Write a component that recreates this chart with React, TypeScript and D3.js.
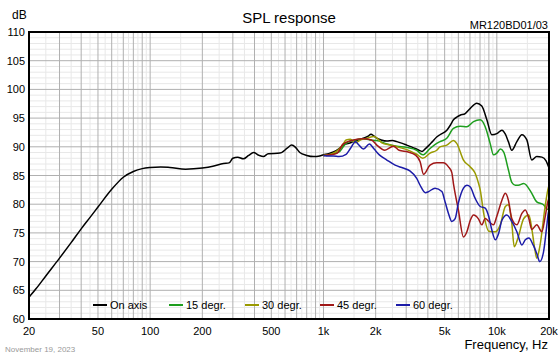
import React from "react";
import * as d3 from "d3";

const freqTicks = [20, 50, 100, 200, 500, 1000, 2000, 5000, 10000, 20000];
const freqTickLabels = ["20", "50", "100", "200", "500", "1k", "2k", "5k", "10k", "20k"];
const dbTicks = [60, 65, 70, 75, 80, 85, 90, 95, 100, 105, 110];

const onAxisF = [20, 22, 25, 30, 35, 40, 45, 50, 60, 70, 80, 90, 100, 115, 130, 160, 200, 230, 265, 285, 300, 320, 345, 370, 395, 425, 450, 480, 560, 620, 655, 690, 730, 800, 880, 950, 1000, 1070, 1140, 1220, 1300, 1400, 1490, 1600, 1700, 1800, 1880, 1950, 2030, 2150, 2320, 2500, 2650, 2850, 3020, 3200, 3380, 3550, 3700, 3850, 4040, 4250, 4500, 4700, 5150, 5400, 5620, 5900, 6140, 6570, 7030, 7660, 8190, 8760, 9360, 10000, 10700, 11200, 11660, 12200, 13050, 13950, 14900, 15900, 17000, 18200, 19200, 20000];
const onAxisDb = [63.8, 65.3, 67.5, 70.6, 73.3, 75.7, 77.7, 79.5, 82.6, 84.7, 85.7, 86.2, 86.4, 86.5, 86.4, 86.1, 86.3, 86.6, 87.1, 87.2, 88.0, 88.2, 87.9, 88.5, 89.0, 88.5, 88.3, 88.8, 88.9, 89.8, 90.3, 89.9, 89.0, 88.5, 88.3, 88.4, 88.6, 88.8, 89.1, 89.6, 90.3, 90.6, 90.9, 91.2, 91.5, 91.8, 92.2, 91.9, 91.5, 91.2, 91.0, 91.1, 90.9, 90.6, 90.3, 90.0, 89.7, 89.4, 89.2, 89.6, 90.2, 90.9, 91.7, 92.1, 92.9, 93.8, 94.7, 95.2, 95.5, 95.8, 96.7, 97.6, 97.1, 94.7, 92.1, 92.3, 92.9, 92.2, 90.9, 89.4, 90.9, 92.1, 91.2, 87.7, 88.3, 88.2, 87.6, 86.3];

const deg15F = [1000, 1070, 1140, 1230, 1300, 1350, 1430, 1530, 1670, 1850, 2030, 2320, 2650, 3020, 3450, 3740, 4120, 4500, 4700, 5145, 5620, 6140, 6720, 7340, 8020, 8570, 9150, 9570, 10000, 10470, 10940, 11660, 12200, 12800, 13300, 14300, 15700, 17000, 18600, 19400, 20000];
const deg15Db = [88.5, 88.6, 88.8, 89.1, 90.0, 90.6, 91.0, 91.2, 91.4, 91.2, 91.1, 90.5, 90.1, 89.9, 89.4, 88.6, 89.7, 90.6, 90.9, 91.5, 93.2, 93.6, 93.5, 94.4, 94.7, 93.5, 90.6, 88.6, 88.9, 89.6, 89.1, 86.0, 83.8, 83.3, 83.3, 83.6, 82.2, 80.4, 79.9, 79.2, 79.0];

const deg30F = [1000, 1100, 1200, 1300, 1350, 1430, 1530, 1640, 1780, 1960, 2170, 2420, 2730, 3150, 3450, 3740, 4120, 4500, 4700, 5145, 5620, 5870, 6420, 7030, 7500, 7850, 8020, 8400, 8990, 9800, 10470, 11200, 11660, 12200, 12600, 13300, 14300, 15300, 15900, 16600, 17000, 17700, 19000, 19800, 20000];
const deg30Db = [88.5, 88.7, 89.3, 90.5, 91.2, 91.3, 90.7, 91.2, 91.5, 91.8, 90.7, 90.3, 89.9, 89.3, 88.7, 88.0, 88.9, 89.4, 90.0, 90.3, 91.1, 90.6, 87.7, 86.5, 85.4, 83.6, 82.5, 78.4, 75.3, 75.2, 76.4, 79.6, 79.9, 76.7, 72.6, 74.3, 77.5, 78.1, 75.8, 72.0, 70.6, 72.6, 79.6, 82.8, 83.2];

const deg45F = [1000, 1100, 1200, 1300, 1490, 1700, 1890, 2030, 2260, 2530, 2730, 3080, 3380, 3610, 3780, 4120, 4500, 4910, 5260, 5500, 5620, 6000, 6420, 6720, 7030, 7340, 7850, 8190, 8570, 8990, 9570, 10000, 10700, 11200, 11660, 12200, 13050, 13950, 14600, 15300, 15900, 17000, 18200, 19000, 19800, 20000];
const deg45Db = [88.5, 88.6, 88.9, 90.5, 91.2, 91.4, 91.2, 90.3, 89.4, 90.1, 89.4, 89.1, 88.6, 87.4, 85.2, 86.8, 87.2, 87.2, 86.5, 85.5, 83.6, 79.0, 74.3, 75.2, 77.2, 78.1, 77.4, 76.4, 77.5, 77.0, 76.4, 77.9, 80.7, 81.9, 80.7, 77.5, 76.4, 78.4, 79.0, 77.5, 75.6, 76.4, 75.2, 77.8, 80.7, 81.0];

const deg60F = [1000, 1070, 1140, 1230, 1350, 1430, 1530, 1600, 1700, 1840, 1960, 2100, 2320, 2590, 2880, 3150, 3450, 3610, 3870, 4040, 4400, 4820, 5030, 5260, 5500, 5750, 6000, 6420, 6720, 7030, 7500, 8020, 8570, 8990, 9360, 9800, 10240, 10700, 11420, 12200, 13050, 13950, 14600, 15300, 16200, 17000, 17700, 18600, 19400, 19800, 20000];
const deg60Db = [88.5, 88.4, 88.4, 88.3, 88.7, 89.7, 90.9, 90.3, 89.6, 90.5, 89.6, 88.6, 87.7, 86.8, 86.3, 85.8, 84.5, 83.3, 82.0, 82.2, 82.8, 82.2, 80.4, 78.4, 77.0, 77.5, 80.2, 82.8, 83.3, 83.0, 81.0, 79.6, 79.3, 77.8, 75.5, 73.8, 74.9, 77.2, 78.1, 77.0, 75.2, 72.9, 73.8, 74.1, 72.9, 71.4, 70.0, 71.7, 76.1, 78.4, 79.0];

const seriesNames = ["On axis", "15 degr.", "30 degr.", "45 degr.", "60 degr."];
const seriesColors = ["#000000", "#1e9e1e", "#9a9a00", "#a01818", "#1c1ca8"];
const seriesF = [onAxisF, deg15F, deg30F, deg45F, deg60F];
const seriesDb = [onAxisDb, deg15Db, deg30Db, deg45Db, deg60Db];

const W = 560, H = 356;
const L = 29, R = 549, T = 32, B = 319;
const font = "'Liberation Sans', Arial, sans-serif";

export default function App() {
  const x = d3.scaleLog().domain([20, 20000]).range([L, R]);
  const y = d3.scaleLinear().domain([60, 110]).range([B, T]);

  const majorF: number[] = [];
  const minorF: number[] = [];
  for (const dec of [10, 100, 1000, 10000]) {
    for (let m = 1; m <= 9; m++) {
      const f = m * dec;
      if (f >= 20 && f <= 20000) majorF.push(f);
      const h = (m + 0.5) * dec;
      if (h > 20 && h < 20000) minorF.push(h);
    }
  }
  const minorDb = d3.range(60, 111, 1).filter((v) => v % 5 !== 0);

  const line = d3
    .line<[number, number]>()
    .x((d) => x(d[0]))
    .y((d) => y(d[1]))
    .curve(d3.curveMonotoneX);

  const legendX = [93, 169, 245, 320, 396];
  const legendY = 305;

  return (
    <svg width={W} height={H} style={{ position: "absolute", left: 0, top: 0, background: "#fff" }} fontFamily={font}>
      <rect x={0} y={0} width={W} height={H} fill="#fff" />
      {minorF.map((f) => (
        <line key={"mf" + f} x1={x(f)} x2={x(f)} y1={T} y2={B} stroke="#e8e8e8" strokeWidth={1} />
      ))}
      {minorDb.map((v) => (
        <line key={"md" + v} x1={L} x2={R} y1={y(v)} y2={y(v)} stroke="#e8e8e8" strokeWidth={1} />
      ))}
      {majorF.map((f) => (
        <line key={"Mf" + f} x1={x(f)} x2={x(f)} y1={T} y2={B} stroke="#b0b0b0" strokeWidth={1} />
      ))}
      {dbTicks.map((v) => (
        <line key={"Md" + v} x1={L} x2={R} y1={y(v)} y2={y(v)} stroke="#b0b0b0" strokeWidth={1} />
      ))}
      <defs>
        <clipPath id="plotclip">
          <rect x={L} y={T} width={R - L} height={B - T} />
        </clipPath>
      </defs>
      <g clipPath="url(#plotclip)">
        {seriesNames.map((n, i) => {
          const pts: [number, number][] = seriesF[i].map((f, j) => [f, seriesDb[i][j]]);
          return <path key={n} d={line(pts) || ""} fill="none" stroke={seriesColors[i]} strokeWidth={1.5} />;
        })}
      </g>
      {seriesNames.map((n, i) => (
        <g key={"lg" + n}>
          <line x1={legendX[i]} x2={legendX[i] + 14} y1={legendY} y2={legendY} stroke={seriesColors[i]} strokeWidth={2} />
          <text x={legendX[i] + 17} y={legendY + 4} fontSize={11} fill="#000">{n}</text>
        </g>
      ))}
      <rect x={L} y={T} width={R - L} height={B - T} fill="none" stroke="#000" strokeWidth={2} />
      {dbTicks.map((v) => (
        <text key={"yl" + v} x={25} y={y(v) + 4} fontSize={11} textAnchor="end" fill="#000">{v}</text>
      ))}
      {freqTicks.map((f, i) => (
        <text key={"xl" + f} x={x(f)} y={335} fontSize={11} textAnchor="middle" fill="#000">{freqTickLabels[i]}</text>
      ))}
      <text x={12} y={19} fontSize={12} fill="#000">dB</text>
      <text x={(L + R) / 2} y={23} fontSize={15} textAnchor="middle" fill="#000">SPL response</text>
      <text x={548} y={29} fontSize={11} textAnchor="end" fill="#000">MR120BD01/03</text>
      <text x={548} y={349} fontSize={13} textAnchor="end" fill="#000">Frequency, Hz</text>
      <text x={5} y={352} fontSize={8} fill="#999">November 19, 2023</text>
    </svg>
  );
}
